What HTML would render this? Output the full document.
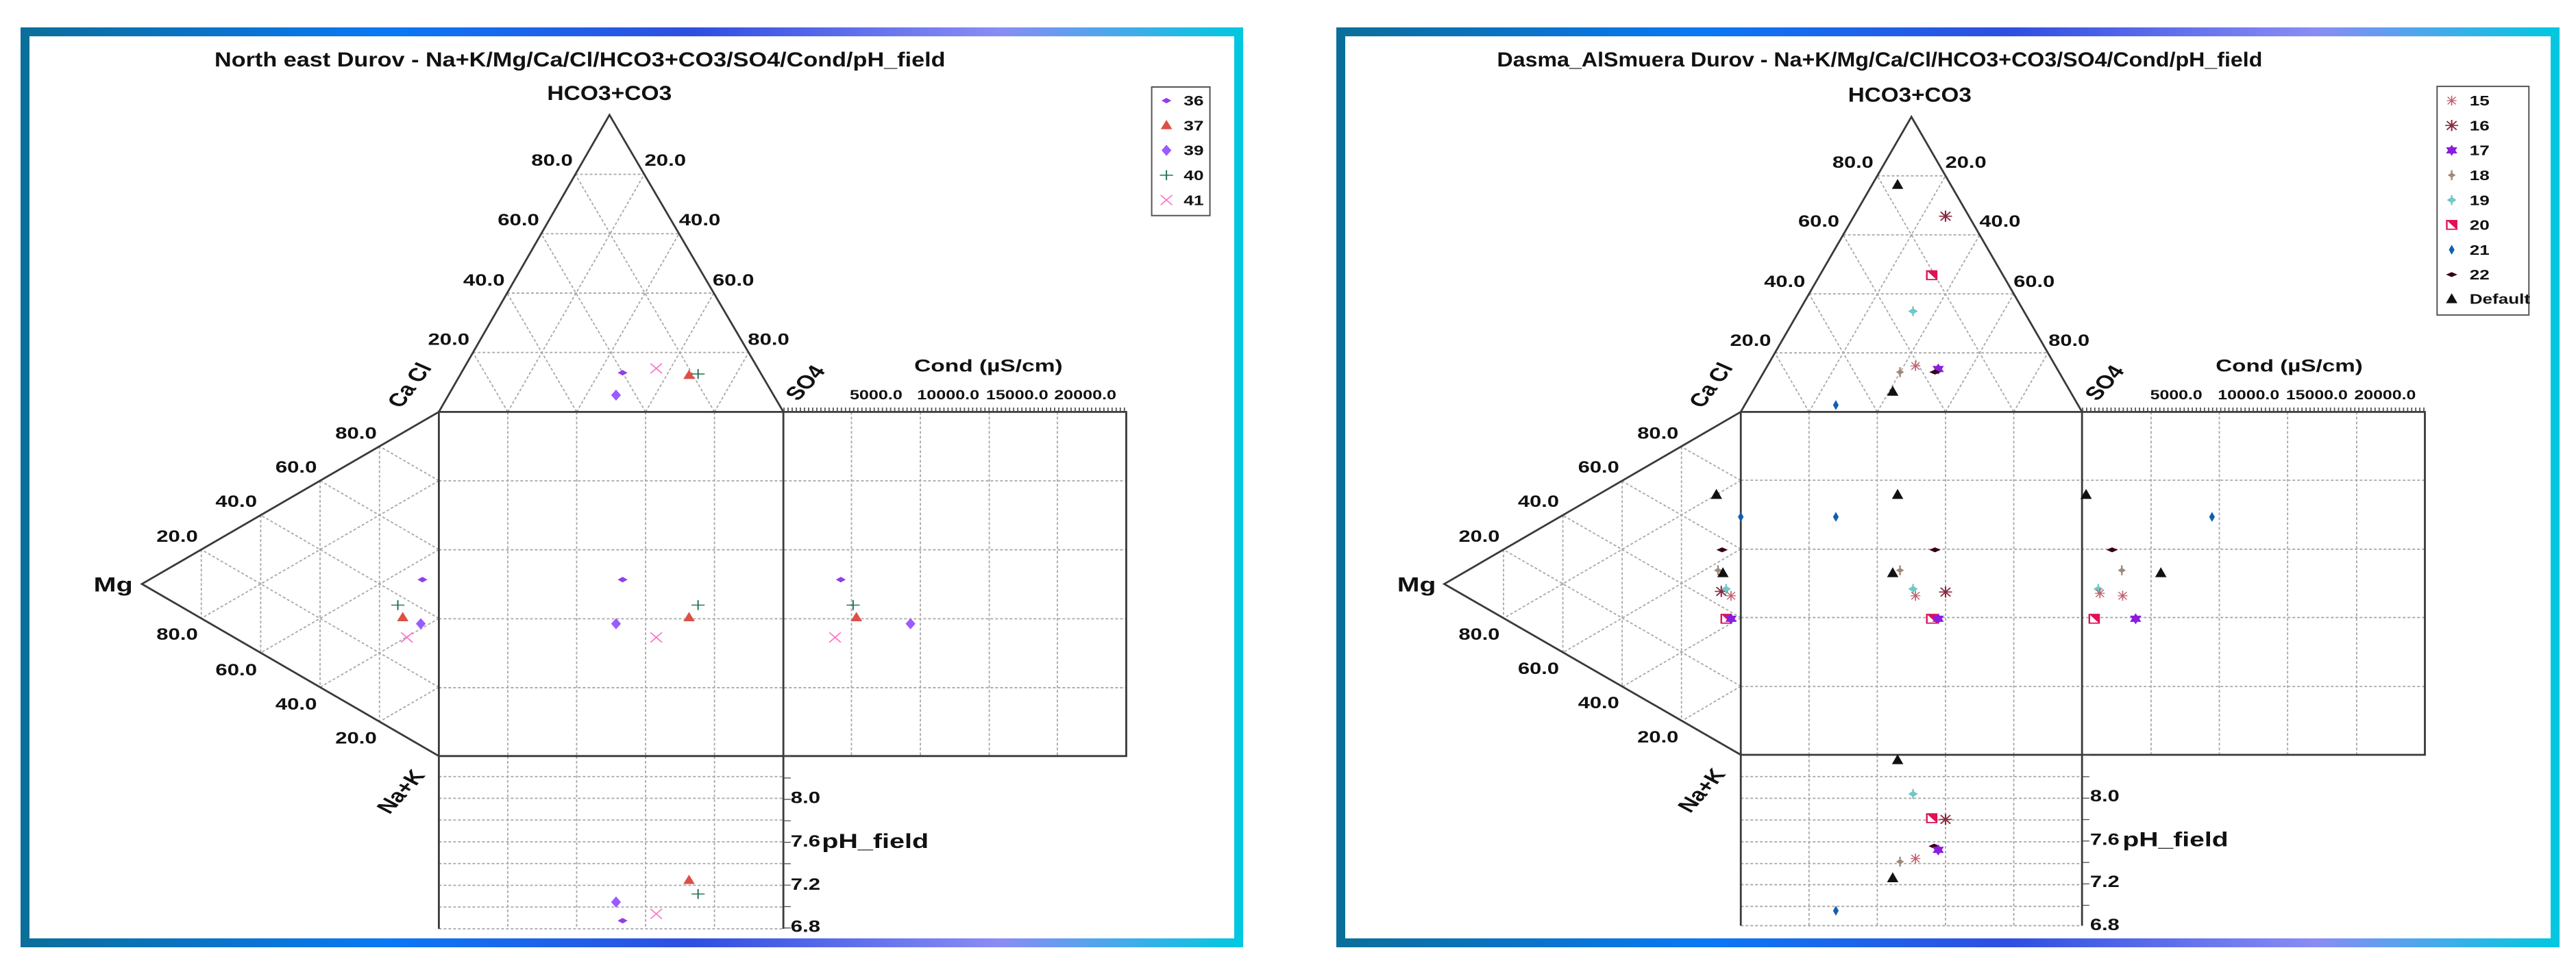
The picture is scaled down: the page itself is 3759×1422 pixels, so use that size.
<!DOCTYPE html>
<html><head><meta charset="utf-8">
<style>
html,body{margin:0;padding:0;background:#fff;}
body{width:3759px;height:1422px;position:relative;overflow:hidden;}
.fr{position:absolute;top:40px;height:1343px;box-sizing:border-box;
background:linear-gradient(90deg,#0b6f9a 0%,#0a78f5 30%,#2f4fe0 55%,#8a8cf5 80%,#00c8e0 100%);}
.fr .in{position:absolute;left:13px;top:13px;right:13px;bottom:13px;background:#fff;}
svg{position:absolute;left:0;top:0;}
text{font-family:"Liberation Sans",Arial,sans-serif;font-weight:bold;fill:#111;}
.g{stroke:#a8a8a8;stroke-width:1.8;stroke-dasharray:4 3;fill:none;}
.k{stroke:#3a3a3a;stroke-width:2.8;fill:none;}
</style></head><body>
<div class="fr" style="left:30px;width:1784px;"><div class="in"></div></div>
<div class="fr" style="left:1950px;width:1785px;"><div class="in"></div></div>
<svg width="3759" height="1422" viewBox="0 0 3759 1422">
<defs>
<path id="m36" d="M-6,0 L0,-4.5 L6,0 L0,4.5Z" fill="#9040e6"/>
<path id="m37" d="M0,-9 L7,6 L-7,6Z" fill="#dd5048"/>
<path id="m39" d="M0,-9 L6,0 L0,9 L-6,0Z" fill="#9a5cff"/>
<g id="m40" stroke="#1e6e4e" stroke-width="1.6"><line x1="-8" y1="0" x2="8" y2="0"/><line x1="0" y1="-8" x2="0" y2="8"/></g>
<g id="m41" stroke="#ff70c8" stroke-width="1.6"><line x1="-7" y1="-8" x2="7" y2="8"/><line x1="-7" y1="8" x2="7" y2="-8"/></g>
<g id="m15" stroke="#c06070" stroke-width="1.4"><line x1="-6" y1="0" x2="6" y2="0"/><line x1="0" y1="-8" x2="0" y2="8"/><line x1="-5" y1="-6" x2="5" y2="6"/><line x1="-5" y1="6" x2="5" y2="-6"/></g>
<g id="m16" stroke="#8a2a40" stroke-width="1.8"><line x1="-8" y1="0" x2="8" y2="0"/><line x1="0" y1="-9" x2="0" y2="9"/><line x1="-6" y1="-7" x2="6" y2="7"/><line x1="-6" y1="7" x2="6" y2="-7"/></g>
<g id="m17" fill="#8a1ee0"><path d="M0,-9 L7,5 L-7,5Z"/><path d="M0,9 L7,-5 L-7,-5Z"/></g>
<g id="m18" fill="#a08878"><path d="M-5,0 L0,-4 L5,0 L0,4Z"/><rect x="-1" y="-8" width="2" height="16"/></g>
<g id="m19" fill="#70c8c8"><path d="M-6,0 L0,-5 L6,0 L0,5Z"/><rect x="-1" y="-8" width="2" height="16"/></g>
<g id="m20"><rect x="-7" y="-8" width="14" height="16" fill="#e0105a"/><path d="M-5,-6 L5,6 L-5,6Z" fill="#fff"/></g>
<path id="m21" d="M0,-8 L3.5,0 L0,8 L-3.5,0Z" fill="#1060b0"/>
<path id="m22" d="M-7,0 L0,-4 L7,0 L0,4Z" fill="#3a0010"/>
<path id="mD" d="M0,-9 L7,7 L-7,7Z" fill="#111"/>
</defs>

<!-- LEFT PANEL -->
<g transform="scale(1.197,0.907)">
<text x="707" y="107" font-size="33" text-anchor="middle" textLength="891" lengthAdjust="spacingAndGlyphs">North east  Durov - Na+K/Mg/Ca/Cl/HCO3+CO3/SO4/Cond/pH_field</text>
<text x="743" y="161" font-size="33" text-anchor="middle" textLength="152" lengthAdjust="spacingAndGlyphs">HCO3+CO3</text>
<path class="g" vector-effect="non-scaling-stroke" d="M701.4,280.6H785.4M659.8,376.2H827.8M618.2,471.8H870.2M576.6,567.4H912.6
M619,663L785.4,280.6M703,663L827.8,376.2M787,663L870.2,471.8M871,663L912.6,567.4
M619,663L576.6,567.4M703,663L618.2,471.8M787,663L659.8,376.2M871,663L701.4,280.6"/>
<path class="g" vector-effect="non-scaling-stroke" d="M245.4,884.6V995.4M317.8,829.2V1050.8M390.2,773.8V1106.2M462.6,718.4V1161.6
M535,773.8L245.4,995.4M535,884.6L317.8,1050.8M535,995.4L390.2,1106.2M535,1106.2L462.6,1161.6
M535,773.8L462.6,718.4M535,884.6L390.2,773.8M535,995.4L317.8,829.2M535,1106.2L245.4,884.6"/>
<path class="g" vector-effect="non-scaling-stroke" d="M619,663V1217M703,663V1217M787,663V1217M871,663V1217
M1038,663V1217M1122,663V1217M1206,663V1217M1289,663V1217
M535,774H1373M535,885H1373M535,996H1373M535,1107H1373
M535,1250H955M535,1285H955M535,1320H955M535,1355H955M535,1390H955M535,1425H955M535,1460H955
M619,1217V1495M703,1217V1495M787,1217V1495M871,1217V1495M535,1495H955"/>
<path class="k" vector-effect="non-scaling-stroke" d="M535,663L743,185L955,663Z M535,663L173,940L535,1217 M535,663H1373V1217H535Z M955,663V1217 M535,1217V1495 M955,1217V1495"/>
<line x1="955" y1="659" x2="1373" y2="659" stroke="#555" stroke-width="6" stroke-dasharray="1.5 3.5"/>
<line x1="960" y1="1217" x2="960" y2="1495" stroke="#555" stroke-width="8" stroke-dasharray="1.5 33"/>
<g font-size="26" text-anchor="middle">
<text x="673" y="267">80.0</text><text x="632" y="363">60.0</text><text x="590" y="460">40.0</text><text x="547" y="555">20.0</text>
<text x="811" y="267">20.0</text><text x="853" y="363">40.0</text><text x="894" y="460">60.0</text><text x="937" y="555">80.0</text>
<text x="434" y="706">80.0</text><text x="361" y="761">60.0</text><text x="288" y="816">40.0</text><text x="216" y="872">20.0</text>
<text x="216" y="1030">80.0</text><text x="288" y="1087">60.0</text><text x="361" y="1142">40.0</text><text x="434" y="1197">20.0</text>
<text x="982" y="1293">8.0</text><text x="982" y="1363">7.6</text><text x="982" y="1432">7.2</text><text x="982" y="1500">6.8</text>
</g>
<g font-size="21" text-anchor="middle">
<text x="1068" y="643">5000.0</text><text x="1156" y="643">10000.0</text><text x="1240" y="643">15000.0</text><text x="1323" y="643">20000.0</text>
</g>
<text x="1205" y="598" font-size="28" text-anchor="middle">Cond (µS/cm)</text>
<text x="1067" y="1365" font-size="33" text-anchor="middle">pH_field</text>
<text x="138" y="952" font-size="33" text-anchor="middle">Mg</text>
<text transform="translate(508,625) rotate(-60)" font-size="30" text-anchor="middle">Ca Cl</text>
<text transform="translate(990,622) rotate(-55)" font-size="30" text-anchor="middle">SO4</text>
<text transform="translate(497,1280) rotate(-55)" font-size="30" text-anchor="middle">Na+K</text>
<rect x="1404" y="140" width="71" height="207" fill="#fff" stroke="#555" stroke-width="2" vector-effect="non-scaling-stroke"/>
<use href="#m36" x="1422" y="162"/><use href="#m37" x="1422" y="202"/><use href="#m39" x="1422" y="242"/><use href="#m40" x="1422" y="282"/><use href="#m41" x="1422" y="322"/>
<g font-size="22" font-weight="normal"><text x="1443" y="170">36</text><text x="1443" y="210">37</text><text x="1443" y="250">39</text><text x="1443" y="290">40</text><text x="1443" y="330">41</text></g>
<use href="#m36" x="759" y="600"/><use href="#m39" x="751" y="636"/><use href="#m41" x="800" y="593"/><use href="#m37" x="840" y="604"/><use href="#m40" x="851" y="602"/>
<use href="#m36" x="759" y="933"/><use href="#m39" x="751" y="1004"/><use href="#m41" x="800" y="1026"/><use href="#m37" x="840" y="994"/><use href="#m40" x="851" y="974"/>
<use href="#m36" x="515" y="933"/><use href="#m40" x="485" y="974"/><use href="#m37" x="491" y="994"/><use href="#m39" x="513" y="1004"/><use href="#m41" x="496" y="1026"/>
<use href="#m36" x="1025" y="933"/><use href="#m40" x="1040" y="974"/><use href="#m37" x="1044" y="994"/><use href="#m41" x="1018" y="1026"/><use href="#m39" x="1110" y="1004"/>
<use href="#m37" x="840" y="1417"/><use href="#m40" x="851" y="1439"/><use href="#m39" x="751" y="1452"/><use href="#m41" x="800" y="1471"/><use href="#m36" x="759" y="1482"/>
</g>

<!-- RIGHT PANEL -->
<g transform="translate(1900,0) scale(1.1856,0.907)">
<text x="711" y="107" font-size="33" text-anchor="middle" textLength="942" lengthAdjust="spacingAndGlyphs">Dasma_AlSmuera  Durov  -  Na+K/Mg/Ca/Cl/HCO3+CO3/SO4/Cond/pH_field</text>
<text x="748" y="164" font-size="33" text-anchor="middle" textLength="152" lengthAdjust="spacingAndGlyphs">HCO3+CO3</text>
<path class="g" vector-effect="non-scaling-stroke" d="M708,283H792M666,378H834M624,473H876M582,568H918
M624,663L792,283M708,663L834,378M792,663L876,473M876,663L918,568
M624,663L582,568M708,663L624,473M792,663L666,378M876,663L708,283"/>
<path class="g" vector-effect="non-scaling-stroke" d="M248,884.8V995.2M321,829.6V1050.4M394,774.4V1105.6M467,719.2V1160.8
M540,773.4L248,995.2M540,883.8L321,1050.4M540,994.2L394,1105.6M540,1104.6L467,1160.8
M540,773.4L467,719.2M540,883.8L394,774.4M540,994.2L321,829.6M540,1104.6L248,884.8"/>
<path class="g" vector-effect="non-scaling-stroke" d="M624,663V1215M708,663V1215M792,663V1215M876,663V1215
M1045,663V1215M1129,663V1215M1213,663V1215M1298,663V1215
M540,773H1382M540,884H1382M540,994H1382M540,1105H1382
M540,1250H960M540,1285H960M540,1320H960M540,1355H960M540,1390H960M540,1424H960M540,1459H960
M624,1215V1490M708,1215V1490M792,1215V1490M876,1215V1490M540,1490H960"/>
<path class="k" vector-effect="non-scaling-stroke" d="M540,663L750,188L960,663Z M540,663L175,940L540,1215 M540,663H1382V1215H540Z M960,663V1215 M540,1215V1490 M960,1215V1490"/>
<line x1="960" y1="659" x2="1382" y2="659" stroke="#555" stroke-width="6" stroke-dasharray="1.5 3.5"/>
<line x1="965" y1="1215" x2="965" y2="1490" stroke="#555" stroke-width="8" stroke-dasharray="1.5 33"/>
<g font-size="26" text-anchor="middle">
<text x="678" y="270">80.0</text><text x="636" y="365">60.0</text><text x="594" y="462">40.0</text><text x="552" y="557">20.0</text>
<text x="817" y="270">20.0</text><text x="859" y="365">40.0</text><text x="901" y="462">60.0</text><text x="944" y="557">80.0</text>
<text x="438" y="706">80.0</text><text x="365" y="761">60.0</text><text x="291" y="816">40.0</text><text x="218" y="872">20.0</text>
<text x="218" y="1030">80.0</text><text x="291" y="1085">60.0</text><text x="365" y="1140">40.0</text><text x="438" y="1195">20.0</text>
<text x="988" y="1290">8.0</text><text x="988" y="1360">7.6</text><text x="988" y="1428">7.2</text><text x="988" y="1497">6.8</text>
</g>
<g font-size="21" text-anchor="middle">
<text x="1076" y="643">5000.0</text><text x="1165" y="643">10000.0</text><text x="1249" y="643">15000.0</text><text x="1333" y="643">20000.0</text>
</g>
<text x="1215" y="598" font-size="28" text-anchor="middle">Cond (µS/cm)</text>
<text x="1075" y="1362" font-size="33" text-anchor="middle">pH_field</text>
<text x="141" y="952" font-size="33" text-anchor="middle">Mg</text>
<text transform="translate(512,625) rotate(-60)" font-size="30" text-anchor="middle">Ca Cl</text>
<text transform="translate(996,622) rotate(-55)" font-size="30" text-anchor="middle">SO4</text>
<text transform="translate(500,1278) rotate(-55)" font-size="30" text-anchor="middle">Na+K</text>
<rect x="1397" y="139" width="113" height="368" fill="#fff" stroke="#555" stroke-width="2" vector-effect="non-scaling-stroke"/>
<use href="#m15" x="1415" y="162"/><use href="#m16" x="1415" y="202"/><use href="#m17" x="1415" y="242"/><use href="#m18" x="1415" y="282"/><use href="#m19" x="1415" y="322"/><use href="#m20" x="1415" y="362"/><use href="#m21" x="1415" y="402"/><use href="#m22" x="1415" y="442"/><use href="#mD" x="1415" y="481"/>
<g font-size="22" font-weight="normal"><text x="1437" y="170">15</text><text x="1437" y="210">16</text><text x="1437" y="250">17</text><text x="1437" y="290">18</text><text x="1437" y="330">19</text><text x="1437" y="370">20</text><text x="1437" y="410">21</text><text x="1437" y="450">22</text><text x="1437" y="489">Default</text></g>
<use href="#mD" x="733" y="297"/><use href="#m16" x="792" y="348"/><use href="#m20" x="775" y="443"/><use href="#m19" x="752" y="501"/><use href="#m15" x="755" y="589"/><use href="#m18" x="736" y="599"/><use href="#m17" x="783" y="594"/><use href="#m22" x="779" y="599"/><use href="#mD" x="727" y="630"/><use href="#m21" x="657" y="652"/>
<use href="#mD" x="733" y="796"/><use href="#m21" x="657" y="832"/><use href="#m22" x="779" y="885"/><use href="#mD" x="727" y="922"/><use href="#m18" x="736" y="918"/><use href="#m19" x="752" y="948"/><use href="#m15" x="755" y="959"/><use href="#m16" x="792" y="953"/><use href="#m20" x="775" y="996"/><use href="#m17" x="783" y="996"/>
<use href="#mD" x="510" y="796"/><use href="#m21" x="540" y="832"/><use href="#m22" x="517" y="885"/><use href="#m18" x="512" y="918"/><use href="#mD" x="518" y="922"/><use href="#m16" x="516" y="952"/><use href="#m19" x="522" y="948"/><use href="#m15" x="528" y="959"/><use href="#m20" x="522" y="996"/><use href="#m17" x="528" y="996"/>
<use href="#mD" x="965" y="796"/><use href="#m21" x="1120" y="832"/><use href="#m22" x="997" y="885"/><use href="#m18" x="1009" y="918"/><use href="#mD" x="1057" y="922"/><use href="#m19" x="980" y="948"/><use href="#m15" x="982" y="955"/><use href="#m15" x="1010" y="959"/><use href="#m20" x="975" y="996"/><use href="#m17" x="1026" y="996"/>
<use href="#mD" x="733" y="1223"/><use href="#m19" x="752" y="1278"/><use href="#m20" x="775" y="1317"/><use href="#m16" x="792" y="1319"/><use href="#m22" x="778" y="1362"/><use href="#m17" x="783" y="1368"/><use href="#m18" x="736" y="1387"/><use href="#m15" x="755" y="1382"/><use href="#mD" x="727" y="1413"/><use href="#m21" x="657" y="1466"/>
</g>
</svg>
</body></html>
